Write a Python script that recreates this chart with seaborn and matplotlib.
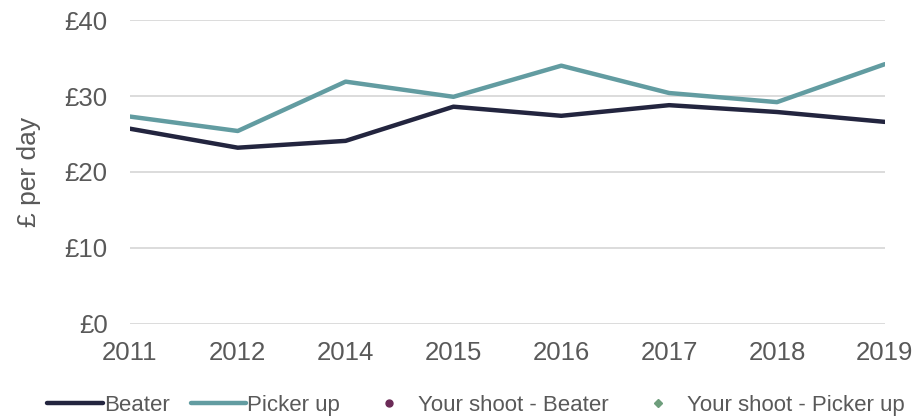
import numpy as np
import pandas as pd
import seaborn as sns
import matplotlib.pyplot as plt
from matplotlib.lines import Line2D

years = ['2011', '2012', '2014', '2015', '2016', '2017', '2018', '2019']
beater = [25.7, 23.2, 24.1, 28.6, 27.4, 28.8, 27.9, 26.6]
picker_up = [27.3, 25.4, 31.9, 29.9, 34.0, 30.4, 29.2, 34.2]
y_ticks = [0, 10, 20, 30, 40]
y_labels = ['£0', '£10', '£20', '£30', '£40']

df = pd.DataFrame({
    'year': years * 2,
    'pay': beater + picker_up,
    'role': ['Beater'] * len(years) + ['Picker up'] * len(years),
})

sns.set_style('white')
plt.rcParams['font.family'] = ['Liberation Sans', 'DejaVu Sans']

grey = '#595959'
colours = {'Beater': '#23253f', 'Picker up': '#629ca1'}

fig = plt.figure(figsize=(9.15, 4.19), dpi=100)
ax = fig.add_axes([0.142, 0.227, 0.825, 0.725])

sns.lineplot(data=df, x='year', y='pay', hue='role', palette=colours,
             linewidth=3.2, ax=ax, legend=False, sort=False)

ax.set_xlim(0, len(years) - 1)
ax.set_ylim(0, 40)
ax.set_yticks(y_ticks)
ax.set_yticklabels(y_labels)
ax.yaxis.grid(True, color='#d9d9d9', linewidth=1.3)
ax.set_axisbelow(True)
for s in ax.spines.values():
    s.set_visible(False)
ax.tick_params(axis='both', length=0, labelsize=18.5, colors=grey)
ax.tick_params(axis='x', pad=12)
ax.tick_params(axis='y', pad=16)
ax.set_xlabel('')
ax.set_ylabel('£ per day', fontsize=19, color=grey, labelpad=17)

handles = [
    Line2D([], [], color=colours['Beater'], linewidth=3.2),
    Line2D([], [], color=colours['Picker up'], linewidth=3.2),
    Line2D([], [], color='#6b2a57', marker='o', linestyle='none', markersize=5),
    Line2D([], [], color='#6e9e7c', marker='D', linestyle='none', markersize=4),
]
labels = ['Beater', 'Picker up', 'Your shoot - Beater', 'Your shoot - Picker up']
leg = fig.legend(handles, labels, loc='lower center', bbox_to_anchor=(0.52, -0.04),
                 ncol=4, frameon=False, fontsize=16, handlelength=2.5,
                 handletextpad=0.05, columnspacing=0.95)
for t in leg.get_texts():
    t.set_color(grey)

fig.savefig('out.png', dpi=100)
